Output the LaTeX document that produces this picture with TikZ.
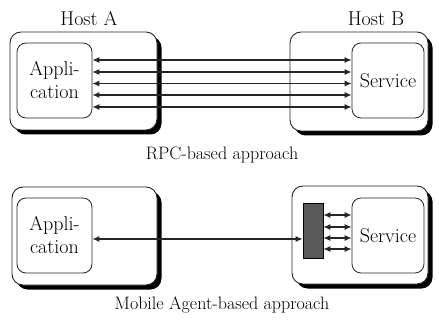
\documentclass[tikz,border=0pt]{standalone}
\usetikzlibrary{arrows.meta}
\newcommand\hostbox[5]{%
  \fill[black, rounded corners=11pt] (#2-#4/2+4.5,#3-#5/2+4.5) rectangle (#2+#4/2+4.5,#3+#5/2+4.5);
  \node[host, minimum width=#4pt, minimum height=#5pt] (#1) at (#2,#3) {};}
\tikzset{
  host/.style={draw=black!85, line width=0.9pt, fill=white, rounded corners=11pt, inner sep=0pt},
  inner/.style={draw=black!85, line width=0.8pt, rounded corners=9pt, align=center,
    font=\fontsize{20}{21}\selectfont, inner sep=0pt},
  title/.style={font=\fontsize{20}{22}\selectfont, inner sep=0pt},
  caption/.style={font=\fontsize{18}{20}\selectfont, inner sep=0pt},
  link/.style={black!85, line width=1.1pt, {Latex[length=7pt,width=6pt]}-{Latex[length=7pt,width=6pt]}},
  agentbox/.style={draw=black, line width=0.8pt, fill=black!65, inner sep=0pt}
}
\begin{document}
\begin{tikzpicture}[x=1pt,y=-1pt]
\useasboundingbox (0,0) rectangle (439,323);
% RPC part
\hostbox{hostA}{83.5}{81}{147}{98}
\node[inner, minimum width=75pt, minimum height=75pt] (appA) at (54.5,80.5) {Appli-\\[2pt]cation};
\hostbox{hostB}{359}{81.5}{138}{99}
\node[inner, minimum width=72pt, minimum height=75pt] (servB) at (388,80.5) {Service};
\node[title] (labA) at (89,19) {Host A};
\node[title] (labB) at (376,19) {Host B};
\foreach \y in {60,72,83.5,95,107}
  \draw[link] (appA.east |- 0,\y) -- (servB.west |- 0,\y);
\node[caption] (rpc) at (222,155) {RPC-based approach};
% Mobile agent part
\hostbox{hostA2}{84.5}{236}{145}{98}
\node[inner, minimum width=75pt, minimum height=75pt] (appA2) at (54.5,235.5) {Appli-\\[2pt]cation};
\hostbox{hostB2}{360}{235}{136}{98}
\node[inner, minimum width=72pt, minimum height=75pt] (servB2) at (388,235.5) {Service};
\node[agentbox, minimum width=20pt, minimum height=55pt] (agent) at (313,230.5) {};
\draw[link] (appA2.east |- 0,239) -- (agent.west |- 0,239);
\foreach \y in {215,227,238,249}
  \draw[link] (agent.east |- 0,\y) -- (servB2.west |- 0,\y);
\node[caption] (mob) at (222,305) {Mobile Agent-based approach};
\end{tikzpicture}
\end{document}
